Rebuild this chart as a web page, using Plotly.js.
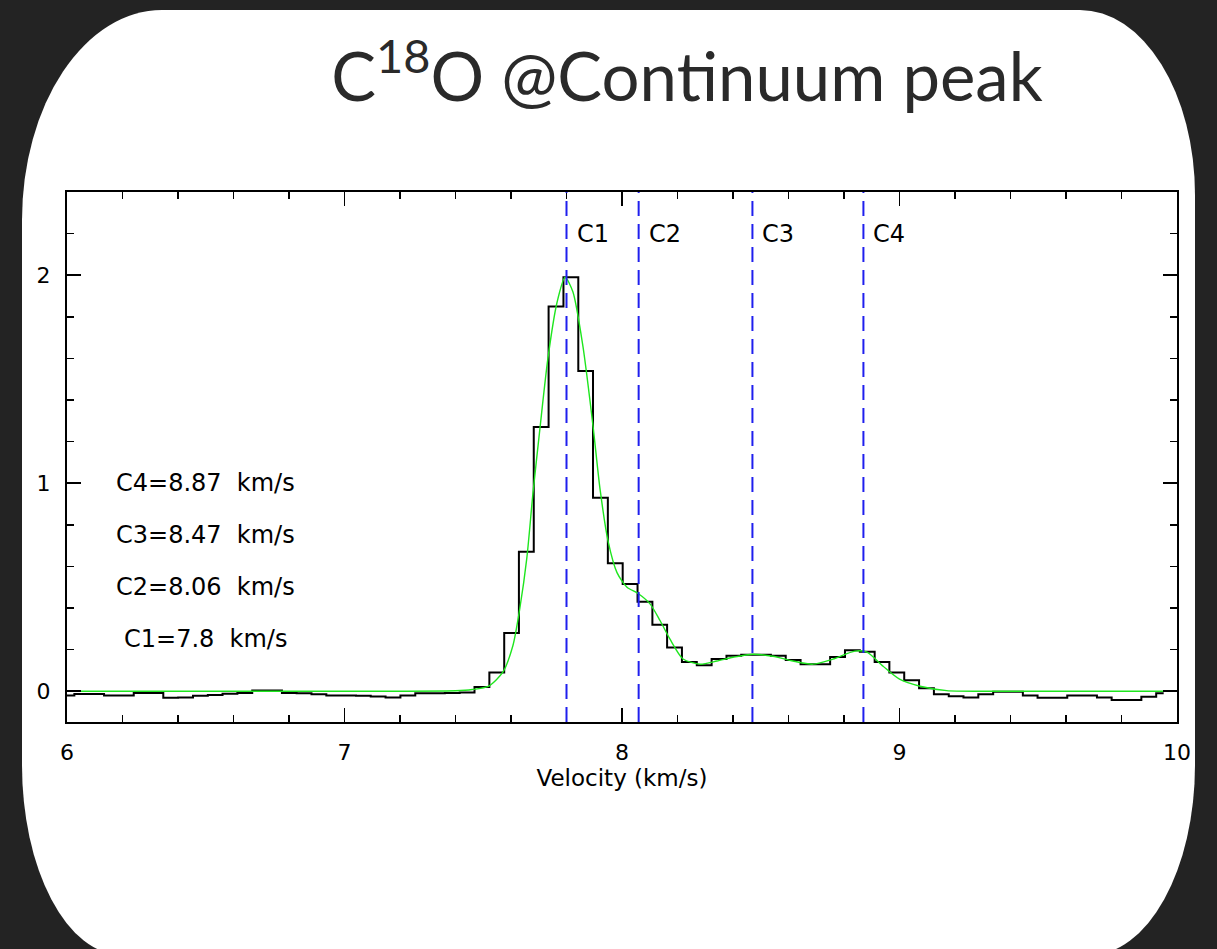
<!DOCTYPE html>
<html><head><meta charset="utf-8">
<script src="https://cdn.plot.ly/plotly-3.0.1.min.js"></script>
<style>
html,body{margin:0;padding:0;background:#232323;width:1217px;height:949px;overflow:hidden;}
#card{position:absolute;left:22px;top:10px;width:1173px;height:945px;background:#fff;
  border-radius:140px 115px 105px 100px / 210px 185px 190px 190px;}
#chart{position:absolute;left:0;top:0;width:1217px;height:949px;}
</style></head>
<body><div id="card"></div><div id="chart"></div>
<script>
// Channel velocities (km/s)
const velocity = [
 6.000,6.053,6.107,6.160,6.214,6.267,6.320,6.374,6.427,6.481,
 6.534,6.587,6.641,6.694,6.748,6.801,6.854,6.908,6.961,7.015,
 7.068,7.121,7.175,7.228,7.282,7.335,7.388,7.442,7.495,7.549,
 7.602,7.655,7.709,7.762,7.816,7.869,7.922,7.976,8.029,8.083,
 8.136,8.189,8.243,8.296,8.350,8.403,8.456,8.510,8.563,8.617,
 8.670,8.723,8.777,8.830,8.884,8.937,8.990,9.044,9.097,9.151,
 9.204,9.257,9.311,9.364,9.418,9.471,9.524,9.578,9.631,9.685,
 9.738,9.791,9.845,9.898,9.952];
// Observed intensity per channel
const intensity = [
 -0.020,-0.013,-0.013,-0.020,-0.020,-0.008,-0.008,-0.032,-0.030,-0.022,
 -0.018,-0.012,-0.008, 0.003, 0.003,-0.008,-0.010,-0.015,-0.020,-0.020,
 -0.022,-0.025,-0.030,-0.020,-0.010,-0.010,-0.008,-0.006, 0.020, 0.090,
  0.280, 0.670, 1.270, 1.850, 1.990, 1.540, 0.930, 0.615, 0.515, 0.430,
  0.320, 0.210, 0.140, 0.125, 0.155, 0.170, 0.175, 0.175, 0.170, 0.150,
  0.130, 0.130, 0.165, 0.197, 0.190, 0.140, 0.090, 0.053, 0.014,-0.014,
 -0.024,-0.030,-0.014,-0.003,-0.003,-0.020,-0.032,-0.032,-0.020,-0.020,
 -0.030,-0.042,-0.042,-0.027,-0.010];
// Multi-component fit
const fitVelocity = [6.00,6.50,7.00,7.40,7.46,7.52,7.57,7.607,7.632,7.657,7.679,7.704,7.733,7.766,7.795,
 7.823,7.859,7.896,7.921,7.950,7.982,8.018,8.058,8.101,8.137,8.173,8.220,8.281,8.342,8.400,8.472,
 8.544,8.616,8.688,8.760,8.839,8.883,8.941,9.000,9.074,9.170,9.300,9.600,10.00];
const fitIntensity = [0.000,0.000,0.000,0.002,0.008,0.025,0.090,0.220,0.400,0.640,0.950,1.260,1.600,1.870,1.990,
 1.920,1.660,1.270,0.970,0.720,0.570,0.500,0.470,0.420,0.340,0.250,0.155,0.130,0.145,0.163,0.178,
 0.168,0.145,0.130,0.154,0.193,0.188,0.120,0.058,0.024,0.003,0.000,0.000,0.000];
// Velocity components
const compNames = ['C1','C2','C3','C4'];
const compVelocity = [7.8, 8.06, 8.47, 8.87];
const xTickLabels = ['6','7','8','9','10'];
const yTickLabels = ['0','1','2'];

const FONT = 'DejaVu Sans, Liberation Sans, sans-serif';
const traces = [
  {x: velocity, y: intensity, mode: 'lines', line: {shape: 'hvh', color: '#000', width: 2}, hoverinfo: 'skip'},
  {x: fitVelocity, y: fitIntensity, mode: 'lines', line: {shape: 'spline', smoothing: 0.7, color: '#1ee61e', width: 1.4}, hoverinfo: 'skip'}
];
const shapes = compVelocity.map(v => ({type: 'line', xref: 'x', yref: 'paper', x0: v, x1: v, y0: 0, y1: 1,
  layer: 'above', line: {color: '#1f1fee', width: 2, dash: '15px,8px'}}));
const rowY = [0.25, 0.5, 0.75, 1.0];
const annotations = [];
compNames.forEach((n, i) => {
  annotations.push({x: compVelocity[i], y: 2.2, xref: 'x', yref: 'y', text: n, showarrow: false,
    xanchor: 'left', yanchor: 'middle', xshift: 8, font: {family: FONT, size: 24, color: '#000'}});
  annotations.push({x: 6.5, y: rowY[i], xref: 'x', yref: 'y', text: n + '=' + compVelocity[i] + '\u00a0 km/s',
    showarrow: false, xanchor: 'center', yanchor: 'middle', font: {family: FONT, size: 24, color: '#000'}});
});

const axisCommon = {showgrid: false, zeroline: false, showline: true, linecolor: '#000', linewidth: 2,
  mirror: 'allticks', ticks: 'inside', tickcolor: '#000', tickwidth: 1.5,
  tickfont: {family: FONT, size: 22, color: '#000'}};
const layout = {
  width: 1217, height: 949,
  margin: {l: 67, r: 40, t: 192, b: 227},
  paper_bgcolor: 'rgba(0,0,0,0)', plot_bgcolor: 'rgba(0,0,0,0)',
  showlegend: false,
  title: {text: 'C<sup>18</sup>O @Con\u200Ctinuum peak', font: {family: 'Lato, Noto Sans, sans-serif', size: 67, color: '#2a2a2a'},
    xref: 'container', yref: 'container', x: 0.5645, xanchor: 'center', y: 0.918, yanchor: 'middle'},
  xaxis: Object.assign({}, axisCommon, {range: [6, 10], tickmode: 'array', tickvals: xTickLabels.map(Number), ticktext: xTickLabels,
    ticklen: 14, ticklabelstandoff: 10,
    minor: {ticks: 'inside', ticklen: 7, dtick: 0.2, tickcolor: '#000', tickwidth: 1.5, showgrid: false},
    title: {text: 'Velocity (km/s)', font: {family: FONT, size: 23, color: '#000'}, standoff: 4}}),
  yaxis: Object.assign({}, axisCommon, {range: [-0.148, 2.40], tickmode: 'array', tickvals: yTickLabels.map(Number), ticktext: yTickLabels,
    ticklen: 14, ticklabelstandoff: 10,
    minor: {ticks: 'inside', ticklen: 7, dtick: 0.2, tickcolor: '#000', tickwidth: 1.5, showgrid: false}}),
  shapes: shapes,
  annotations: annotations
};
Plotly.newPlot('chart', traces, layout, {displayModeBar: false, staticPlot: true});
</script></body></html>
